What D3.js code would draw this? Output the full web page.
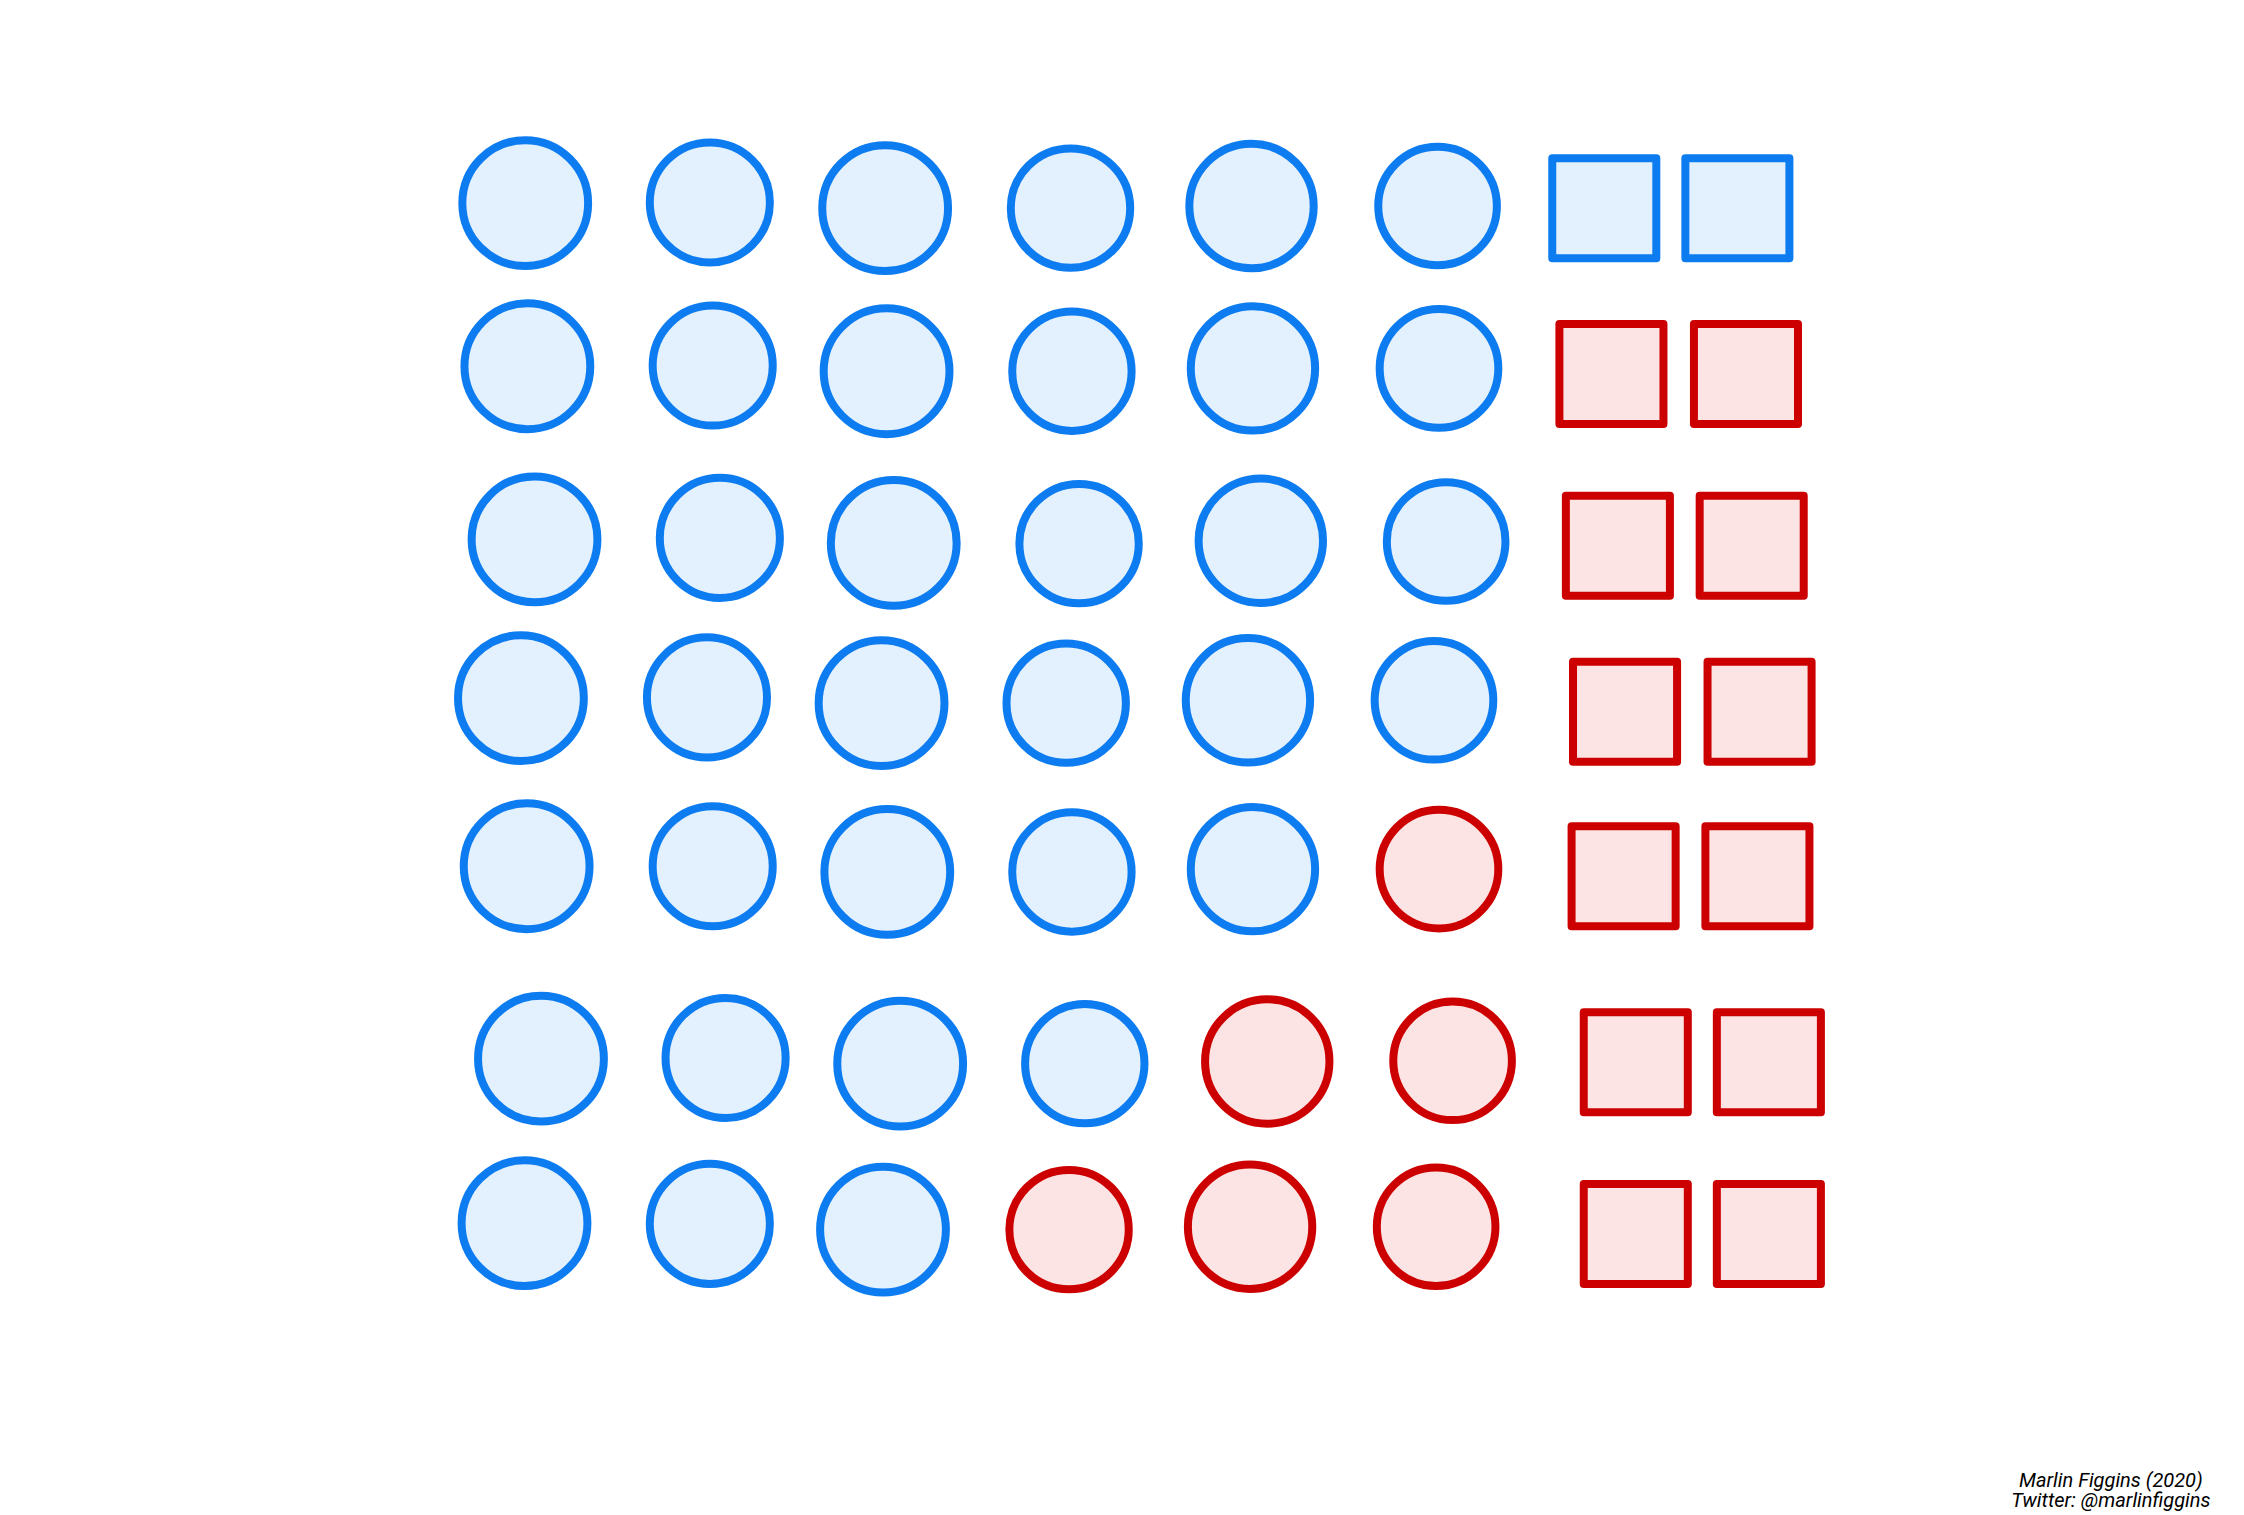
<!DOCTYPE html>
<html>
<head>
<meta charset="utf-8">
<script src="https://cdn.jsdelivr.net/npm/d3@7"></script>
<style>
  html, body { margin: 0; padding: 0; background: #ffffff; }
  svg { display: block; }
</style>
</head>
<body>
<script>
// ---- Data (positions, in reference units) ----
const circleCX = [
  [367, 496, 618.5, 748, 874.5, 1004.5],
  [368.5, 498, 619.5, 749, 875.5, 1005.5],
  [373.5, 503, 624.5, 754, 881, 1010.5],
  [364, 494, 616, 745, 872, 1002],
  [368, 498, 620, 749, 875.5, 1005.5],
  [378, 507, 629, 758, 885.5, 1015],
  [366.5, 496, 617, 747, 873.5, 1003.5]
];
const circleCY = [
  [142, 141.5, 145.5, 145.5, 144, 144],
  [256, 255.5, 259.5, 259.5, 257.5, 257.5],
  [377, 376, 379.5, 380, 378, 378.5],
  [488, 487.5, 491.5, 491.5, 489.5, 489.5],
  [605.5, 605.5, 609.5, 609.5, 607.5, 607.5],
  [740, 739.5, 743.5, 743.5, 742, 741.5],
  [855, 855.5, 859.5, 859.5, 857.5, 857.5]
];
const circleDiameter = [93.5, 89.5, 93.5, 89, 92.5, 88.5];
const circleParty = [
  ["D", "D", "D", "D", "D", "D"],
  ["D", "D", "D", "D", "D", "D"],
  ["D", "D", "D", "D", "D", "D"],
  ["D", "D", "D", "D", "D", "D"],
  ["D", "D", "D", "D", "D", "R"],
  ["D", "D", "D", "D", "R", "R"],
  ["D", "D", "D", "R", "R", "R"]
];
const squareCX = [
  [1121, 1214],
  [1126, 1220],
  [1130.5, 1224],
  [1135.5, 1229.5],
  [1134.5, 1228],
  [1143, 1236],
  [1143, 1236]
];
const squareCY = [145.5, 261.5, 381.5, 497.5, 612.5, 742.5, 862.5];
const squareSize = [78.3, 75.5];
const squareParty = [
  ["D", "D"], ["R", "R"], ["R", "R"], ["R", "R"], ["R", "R"], ["R", "R"], ["R", "R"]
];
const credits = ["Marlin Figgins (2020)", "Twitter: @marlinfiggins"];

// ---- Styles ----
const W = 2244, H = 1515;
const strokeW = 8;
const strokeColor = { D: "#0d7cf0", R: "#cc0000" };
const fillColor = { D: "#e3f0fd", R: "#fce4e4" };

const x = d3.scaleLinear().domain([0, 1568]).range([0, W]);
const y = d3.scaleLinear().domain([0, 1059]).range([0, H]);

const circles = [];
circleCX.forEach((row, i) => row.forEach((cx, j) => {
  circles.push({ cx, cy: circleCY[i][j], d: circleDiameter[j], party: circleParty[i][j] });
}));
const squares = [];
squareCX.forEach((row, i) => row.forEach((cx, j) => {
  squares.push({ cx, cy: squareCY[i], party: squareParty[i][j] });
}));

const svg = d3.select("body").append("svg")
  .attr("width", W).attr("height", H)
  .attr("viewBox", `0 0 ${W} ${H}`)
  .attr("shape-rendering", "geometricPrecision");

svg.append("rect").attr("width", W).attr("height", H).attr("fill", "#ffffff");

svg.append("g").selectAll("circle")
  .data(circles)
  .join("circle")
  .attr("cx", d => x(d.cx))
  .attr("cy", d => y(d.cy))
  .attr("r", d => x(d.d) / 2 - strokeW / 2)
  .attr("fill", d => fillColor[d.party])
  .attr("stroke", d => strokeColor[d.party])
  .attr("stroke-width", strokeW);

const sw = x(squareSize[0]) - strokeW;
const sh = y(squareSize[1]) - strokeW;
svg.append("g").selectAll("rect")
  .data(squares)
  .join("rect")
  .attr("x", d => x(d.cx) - sw / 2)
  .attr("y", d => y(d.cy) - sh / 2)
  .attr("width", sw)
  .attr("height", sh)
  .attr("fill", d => fillColor[d.party])
  .attr("stroke", d => strokeColor[d.party])
  .attr("stroke-width", strokeW)
  .attr("stroke-linejoin", "round");

svg.append("g").selectAll("text")
  .data(credits)
  .join("text")
  .attr("x", x(1475))
  .attr("y", (d, i) => 1487 + i * 20)
  .attr("text-anchor", "middle")
  .attr("font-family", "Roboto, sans-serif")
  .attr("font-style", "italic")
  .attr("font-size", 20)
  .attr("fill", "#000000")
  .text(d => d);
</script>
</body>
</html>
